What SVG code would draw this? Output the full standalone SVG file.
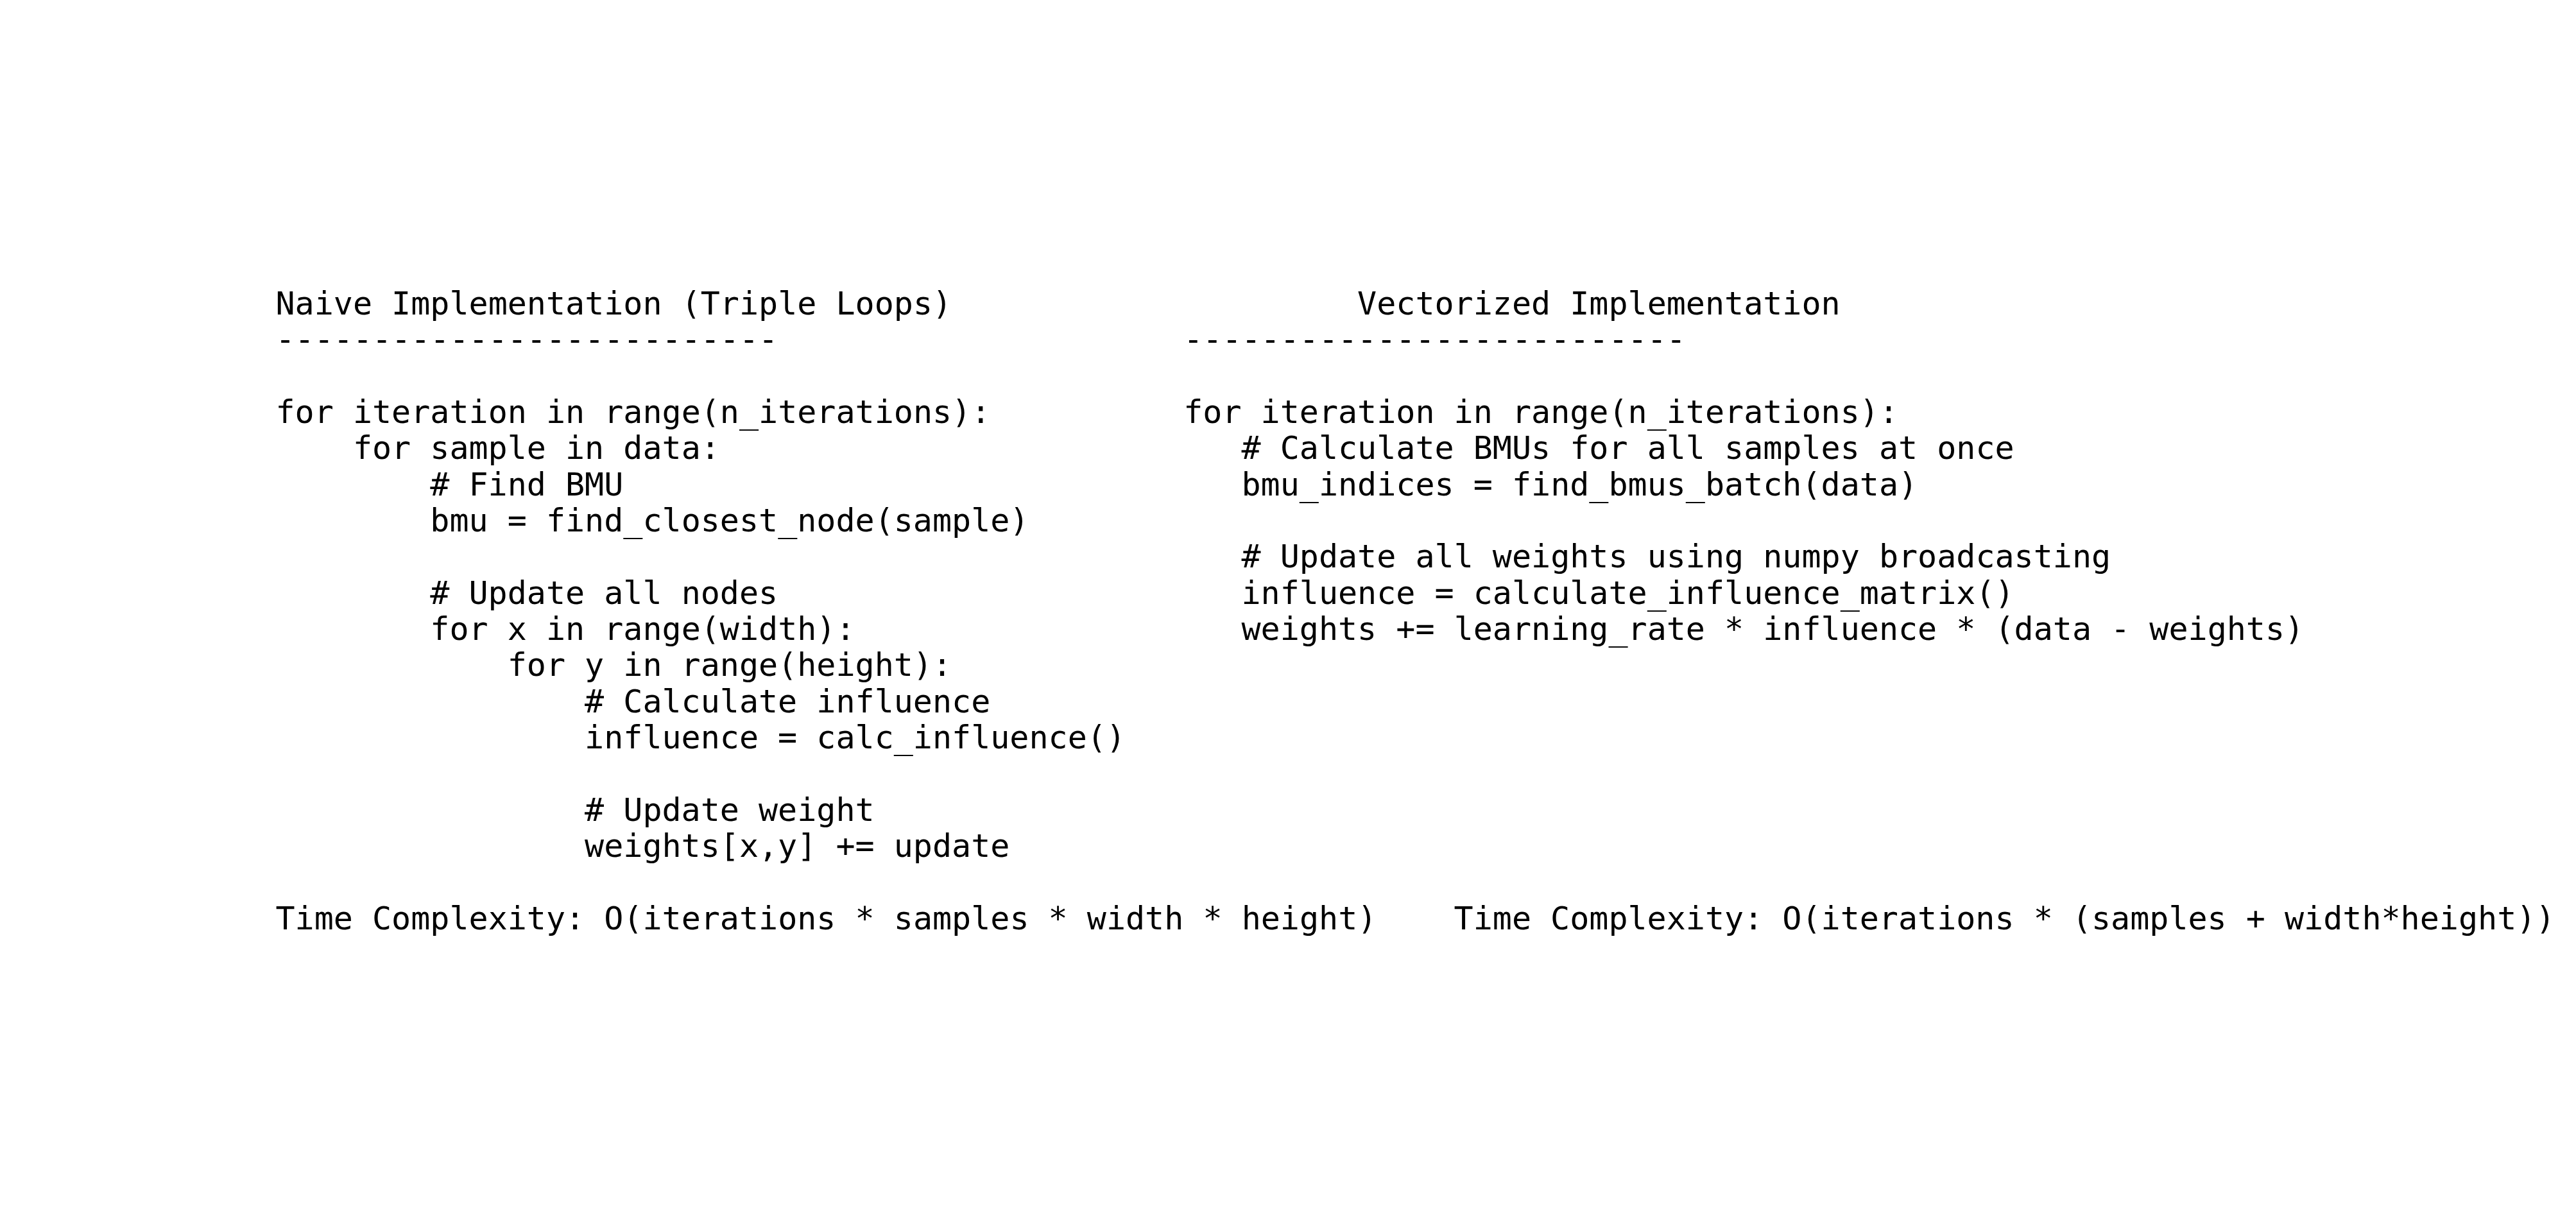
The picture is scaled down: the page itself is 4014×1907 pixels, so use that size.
<svg xmlns="http://www.w3.org/2000/svg" width="4014" height="1907" viewBox="0 0 4014 1907">
<style>
text { font-family: "DejaVu Sans Mono", "Liberation Mono", monospace; font-size: 50px; fill: #000000; }
</style>
<rect x="0" y="0" width="4014" height="1907" fill="#ffffff"/>
<g id="naive">
<text x="429.5" y="490">Naive Implementation (Triple Loops)</text>
<text x="429.5" y="546.3">--------------------------</text>
<text x="429.5" y="659">for iteration in range(n_iterations):</text>
<text x="549.9" y="715.3">for sample in data:</text>
<text x="670.3" y="771.7"># Find BMU</text>
<text x="670.3" y="828">bmu = find_closest_node(sample)</text>
<text x="670.3" y="940.6"># Update all nodes</text>
<text x="670.3" y="997">for x in range(width):</text>
<text x="790.7" y="1053.3">for y in range(height):</text>
<text x="911.1" y="1109.6"># Calculate influence</text>
<text x="911.1" y="1166">influence = calc_influence()</text>
<text x="911.1" y="1278.6"># Update weight</text>
<text x="911.1" y="1335">weights[x,y] += update</text>
<text x="429.5" y="1447.6">Time Complexity: O(iterations * samples * width * height)</text>
</g>
<g id="vectorized">
<text x="2115.1" y="490">Vectorized Implementation</text>
<text x="1844.2" y="546.3">--------------------------</text>
<text x="1844.2" y="659">for iteration in range(n_iterations):</text>
<text x="1934.5" y="715.3"># Calculate BMUs for all samples at once</text>
<text x="1934.5" y="771.7">bmu_indices = find_bmus_batch(data)</text>
<text x="1934.5" y="884.3"># Update all weights using numpy broadcasting</text>
<text x="1934.5" y="940.6">influence = calculate_influence_matrix()</text>
<text x="1934.5" y="997">weights += learning_rate * influence * (data - weights)</text>
<text x="2265.6" y="1447.6">Time Complexity: O(iterations * (samples + width*height))</text>
</g>
<g id="connectors"/>
</svg>
